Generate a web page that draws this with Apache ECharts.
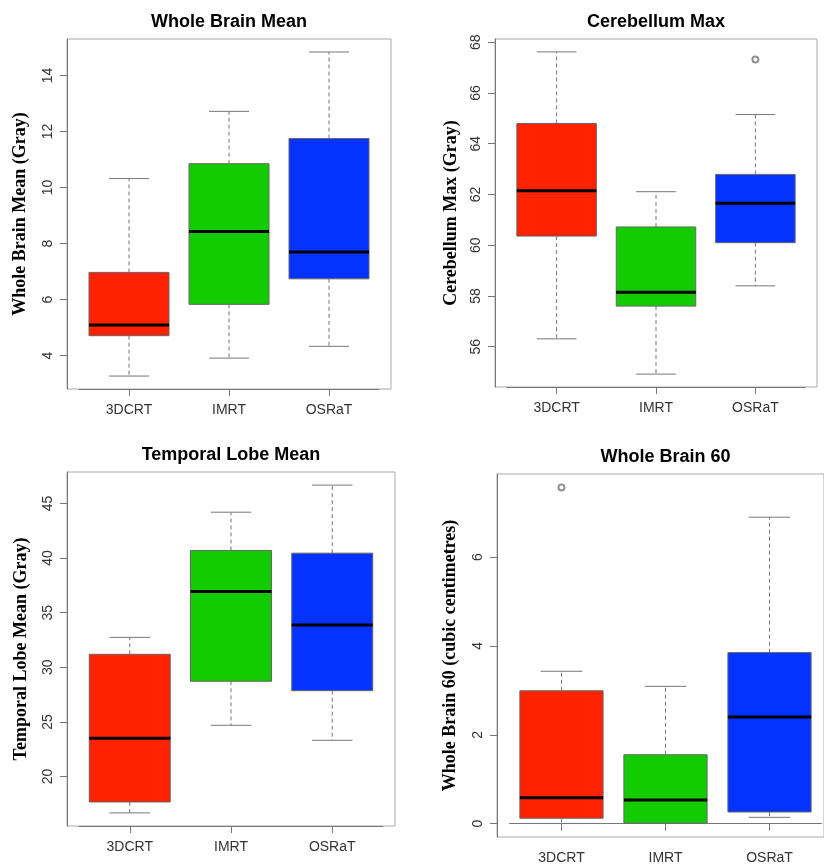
<!DOCTYPE html>
<html>
<head>
<meta charset="utf-8">
<script src="https://cdn.jsdelivr.net/npm/echarts@6/dist/echarts.min.js"></script>
<style>
html,body{margin:0;padding:0;background:#fff;}
#chart{width:824px;height:866px;}
</style>
</head>
<body>
<div id="chart"></div>
<script>
// ---- data ----
const categories = ['3DCRT', 'IMRT', 'OSRaT'];
const boxColors = ['#FF2200', '#12CC00', '#0433FF'];

// [lower whisker, Q1, median, Q3, upper whisker]
const wholeBrainMean = [
  [3.27, 4.71, 5.09, 6.97, 10.32],
  [3.91, 5.83, 8.43, 10.85, 12.72],
  [4.33, 6.74, 7.70, 11.75, 14.84]
];
const wholeBrainMeanOutliers = [];

const cerebellumMax = [
  [56.31, 60.36, 62.15, 64.80, 67.62],
  [54.92, 57.60, 58.15, 60.72, 62.11],
  [58.40, 60.10, 61.65, 62.79, 65.15]
];
const cerebellumMaxOutliers = [[2, 67.32]];

const temporalLobeMean = [
  [16.67, 17.67, 23.50, 31.19, 32.74],
  [24.69, 28.72, 36.95, 40.70, 44.20],
  [23.32, 27.86, 33.87, 40.45, 46.68]
];
const temporalLobeMeanOutliers = [];

const wholeBrain60 = [
  [0.00, 0.12, 0.58, 2.99, 3.43],
  [0.00, 0.01, 0.53, 1.55, 3.09],
  [0.14, 0.26, 2.40, 3.85, 6.90]
];
const wholeBrain60Outliers = [[0, 7.57]];

const ticksWholeBrainMean = [4, 6, 8, 10, 12, 14];
const ticksCerebellumMax = [56, 58, 60, 62, 64, 66, 68];
const ticksTemporalLobeMean = [20, 25, 30, 35, 40, 45];
const ticksWholeBrain60 = [0, 2, 4, 6];

// ---- panels (layout) ----
const panels = [
  {title: 'Whole Brain Mean', yName: 'Whole Brain Mean (Gray)', data: wholeBrainMean, out: wholeBrainMeanOutliers, ticks: ticksWholeBrainMean,
   L: 67, T: 39, R: 391, B: 389, gap: 38},
  {title: 'Cerebellum Max', yName: 'Cerebellum Max (Gray)', data: cerebellumMax, out: cerebellumMaxOutliers, ticks: ticksCerebellumMax,
   L: 495, T: 39, R: 817, B: 387, gap: 35},
  {title: 'Temporal Lobe Mean', yName: 'Temporal Lobe Mean (Gray)', data: temporalLobeMean, out: temporalLobeMeanOutliers, ticks: ticksTemporalLobeMean,
   L: 67, T: 472, R: 395, B: 826, gap: 37},
  {title: 'Whole Brain 60', yName: 'Whole Brain 60 (cubic centimetres)', data: wholeBrain60, out: wholeBrain60Outliers, ticks: ticksWholeBrain60,
   L: 497, T: 474, R: 834, B: 837, gap: 38}
];

const grid = [], xAxis = [], yAxis = [], series = [], graphic = [];

function renderBox(params, api) {
  const cat = api.value(0);
  const lo = api.value(1), q1 = api.value(2), med = api.value(3), q3 = api.value(4), hi = api.value(5);
  const band = api.size([1, 0])[0];
  const hw = band * 0.4, cw = band * 0.2;
  const pLo = api.coord([cat, lo]), pQ1 = api.coord([cat, q1]), pMed = api.coord([cat, med]);
  const pQ3 = api.coord([cat, q3]), pHi = api.coord([cat, hi]);
  const x = pMed[0];
  const wStyle = {stroke: '#777', lineWidth: 1, lineDash: [4, 3]};
  const cStyle = {stroke: '#777', lineWidth: 1};
  return {
    type: 'group',
    children: [
      {type: 'line', shape: {x1: x, y1: pQ3[1], x2: x, y2: pHi[1]}, style: wStyle},
      {type: 'line', shape: {x1: x, y1: pQ1[1], x2: x, y2: pLo[1]}, style: wStyle},
      {type: 'line', shape: {x1: x - cw, y1: pHi[1], x2: x + cw, y2: pHi[1]}, style: cStyle},
      {type: 'line', shape: {x1: x - cw, y1: pLo[1], x2: x + cw, y2: pLo[1]}, style: cStyle},
      {type: 'rect', shape: {x: x - hw, y: pQ3[1], width: 2 * hw, height: pQ1[1] - pQ3[1]},
       style: {fill: boxColors[params.dataIndex], stroke: '#666', lineWidth: 1}},
      {type: 'line', shape: {x1: x - hw, y1: pMed[1], x2: x + hw, y2: pMed[1]}, style: {stroke: '#000', lineWidth: 3}}
    ]
  };
}

panels.forEach((p, i) => {
  const W = p.R - p.L, H = p.B - p.T;
  const unit = W / 3.24;
  let all = [];
  p.data.forEach(d => all = all.concat(d));
  p.out.forEach(o => all.push(o[1]));
  const dmin = Math.min(...all), dmax = Math.max(...all);
  const ext = (dmax - dmin) * 0.04;
  const ymin = dmin - ext, ymax = dmax + ext;

  grid.push({left: p.L, top: p.T, width: W, height: H, show: true, borderColor: '#aaa', borderWidth: 1});
  grid.push({left: p.L + 0.12 * unit, top: p.T, width: 3 * unit, height: H, show: false});

  xAxis.push({type: 'value', gridIndex: 2 * i, show: false, min: 0, max: 1});
  xAxis.push({
    type: 'category', gridIndex: 2 * i + 1, data: categories,
    axisLine: {show: true, lineStyle: {color: '#777', width: 1}},
    axisTick: {show: true, alignWithLabel: true, length: 7, lineStyle: {color: '#777'}},
    axisLabel: {fontFamily: 'Liberation Sans', fontSize: 14, color: '#333', margin: 14},
    splitLine: {show: false}
  });

  yAxis.push({
    type: 'value', gridIndex: 2 * i, min: ymin, max: ymax,
    name: p.yName, nameLocation: 'middle', nameRotate: 90, nameGap: p.gap,
    nameTextStyle: {fontFamily: 'Liberation Serif', fontWeight: 'bold', fontSize: 18, color: '#000'},
    axisLine: {show: true, lineStyle: {color: '#777', width: 1}},
    axisTick: {show: true, length: 7, lineStyle: {color: '#777'}, customValues: p.ticks},
    axisLabel: {show: true, rotate: 90, fontFamily: 'Liberation Sans', fontSize: 14, color: '#333', margin: 12,
                customValues: p.ticks, formatter: v => String(v)},
    splitLine: {show: false}
  });
  yAxis.push({type: 'value', gridIndex: 2 * i + 1, min: ymin, max: ymax, show: false, splitLine: {show: false}});

  series.push({
    type: 'custom', xAxisIndex: 2 * i + 1, yAxisIndex: 2 * i + 1,
    renderItem: renderBox,
    encode: {x: 0, y: [1, 2, 3, 4, 5]},
    data: p.data.map((d, k) => [k].concat(d)),
    silent: true
  });
  if (p.out.length) {
    series.push({
      type: 'scatter', xAxisIndex: 2 * i + 1, yAxisIndex: 2 * i + 1,
      symbol: 'emptyCircle', symbolSize: 6,
      itemStyle: {color: '#777', borderColor: '#777', borderWidth: 1},
      data: p.out, silent: true, z: 5
    });
  }

  graphic.push({
    type: 'text', x: (p.L + Math.min(p.R, 834)) / 2, y: p.T - 17,
    style: {text: p.title, font: 'bold 18px "Liberation Sans"', fill: '#000', textAlign: 'center', textVerticalAlign: 'middle'}
  });
});

const chart = echarts.init(document.getElementById('chart'), null, {renderer: 'canvas'});
chart.setOption({
  animation: false,
  backgroundColor: '#fff',
  grid, xAxis, yAxis, series, graphic
});
</script>
</body>
</html>
